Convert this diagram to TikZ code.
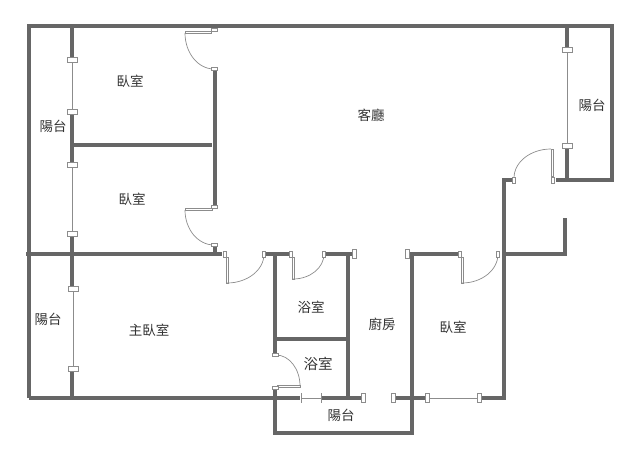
\documentclass[tikz,border=0pt]{standalone}
\usepackage{fontspec}
\setmainfont{Noto Sans CJK TC}
\definecolor{wallgray}{HTML}{666666}
\definecolor{thingray}{HTML}{8C8C8C}
\definecolor{labelgray}{HTML}{333333}
\tikzset{
    wall/.style={draw=wallgray, line width=4pt},
    glass/.style={draw=thingray, line width=1pt},
    jamb/.style={draw=thingray, fill=white, line width=.9pt},
    swing/.style={draw=thingray, line width=.7pt},
    room/.style={text=labelgray, font=\fontsize{13.5}{13.5}\selectfont, inner sep=0pt}
}
\begin{document}
\begin{tikzpicture}[x=1pt, y=-1pt]
\useasboundingbox (0,0) rectangle (640,461);
% outer walls
\draw[wall](29,398)--(29,26)--(612,26)--(612,180)--(556,180);
\draw[wall](26,254)--(222,254);
\draw[wall](29,398)--(300,398);
\draw[wall](322,398)--(361,398);
\draw[wall](395,398)--(427,398);
\draw[wall](481,398)--(504,398)--(504,180)--(512,180);
\draw[wall](504,254)--(565,254)--(565,218);
\draw[wall](275,390)--(275,433)--(412,433)--(412,254)--(405,254);
\draw[wall](412,254)--(458,254);
% inner walls
\draw[wall](72,26)--(72,60);
\draw[wall](72,112)--(72,165);
\draw[wall](72,234)--(72,289);
\draw[wall](72,369)--(72,398);
\draw[wall](72,145)--(212,145);
\draw[wall](215,70)--(215,207);
\draw[wall](215,245)--(215,254);
\draw[wall](266,254)--(291,254);
\draw[wall](326,254)--(352,254);
\draw[wall](275,254)--(275,354);
\draw[wall](348,254)--(348,398);
\draw[wall](275,339)--(348,339);
\draw[wall](567,26)--(567,50);
\draw[wall](567,146)--(567,180);
% windows
\draw[glass](72,60)--(72,112);
\draw[glass](72,165)--(72,234);
\draw[glass](73,289)--(73,369);
\draw[glass](567,50)--(567,146);
\draw[glass](301,398)--(321,398);
\draw[glass](427,398)--(479,398);
% wide jambs on the vertical windows
\foreach \a/\b in {72/60, 72/112, 72/165, 72/234, 73/289, 73/369, 567/50, 567/146}
{
    \draw[jamb](\a-5,\b-2.5) rectangle (\a+5,\b+2.5);
}
% tall jambs
\foreach \a/\b in {354/254, 407/254, 363/398, 393/398, 427/398, 479/398}
{
    \draw[jamb](\a-2,\b-4.5) rectangle (\a+2,\b+4.5);
}
\draw[glass](301,393)--(301,403);
\draw[glass](321,393)--(321,403);
% doors: panel then swing
\draw[jamb](185,31) rectangle (211,33);
\draw[swing](185,33) arc[start angle=180, end angle=270, x radius=29, y radius=-36];
\draw[jamb](185,208) rectangle (212,210);
\draw[swing](185,210) arc[start angle=180, end angle=270, x radius=29, y radius=-35];
\draw[jamb](226,257) rectangle (228,283);
\draw[swing](227,283) arc[start angle=270, end angle=360, x radius=37, y radius=-29];
\draw[jamb](292,257) rectangle (294,279);
\draw[swing](293,279) arc[start angle=270, end angle=360, x radius=31, y radius=-25];
\draw[jamb](461,257) rectangle (463,283);
\draw[swing](462,283) arc[start angle=270, end angle=360, x radius=36, y radius=-29];
\draw[jamb](551,149) rectangle (553,176);
\draw[swing](551,149) arc[start angle=90, end angle=180, x radius=37, y radius=-29];
\draw[jamb](277,385) rectangle (300,387);
\draw[swing](300,386) arc[start angle=0, end angle=90, x radius=24, y radius=-31];
% door jambs
\foreach \a/\b in {225/254, 264/254, 291/254, 324/254, 460/254, 498/254, 514/180, 553/180}
{
    \draw[jamb](\a-1.5,\b-3) rectangle (\a+1.5,\b+3);
}
\foreach \a/\b in {214/30, 214/69, 214/207, 214/245, 275/355, 275/388}
{
    \draw[jamb](\a-3,\b-1.5) rectangle (\a+3,\b+1.5);
}
% rooms
\node[room] (bedroomA) at (130,81) {臥室};
\node[room] (bedroomB) at (132,199) {臥室};
\node[room] (bedroomC) at (453,327) {臥室};
\node[room] (masterroom) at (149,330) {主臥室};
\node[room] (livingroom) at (371,115) {客廳};
\node[room] (kitchen) at (382,324) {廚房};
\node[room] (bathA) at (311,307) {浴室};
\node[room, font=\fontsize{14.5}{14.5}\selectfont] (bathB) at (318,364) {浴室};
\node[room] (balconyA) at (53,126) {陽台};
\node[room] (balconyB) at (48,319) {陽台};
\node[room] (balconyC) at (592,105) {陽台};
\node[room] (balconyD) at (341,415) {陽台};
\end{tikzpicture}
\end{document}
